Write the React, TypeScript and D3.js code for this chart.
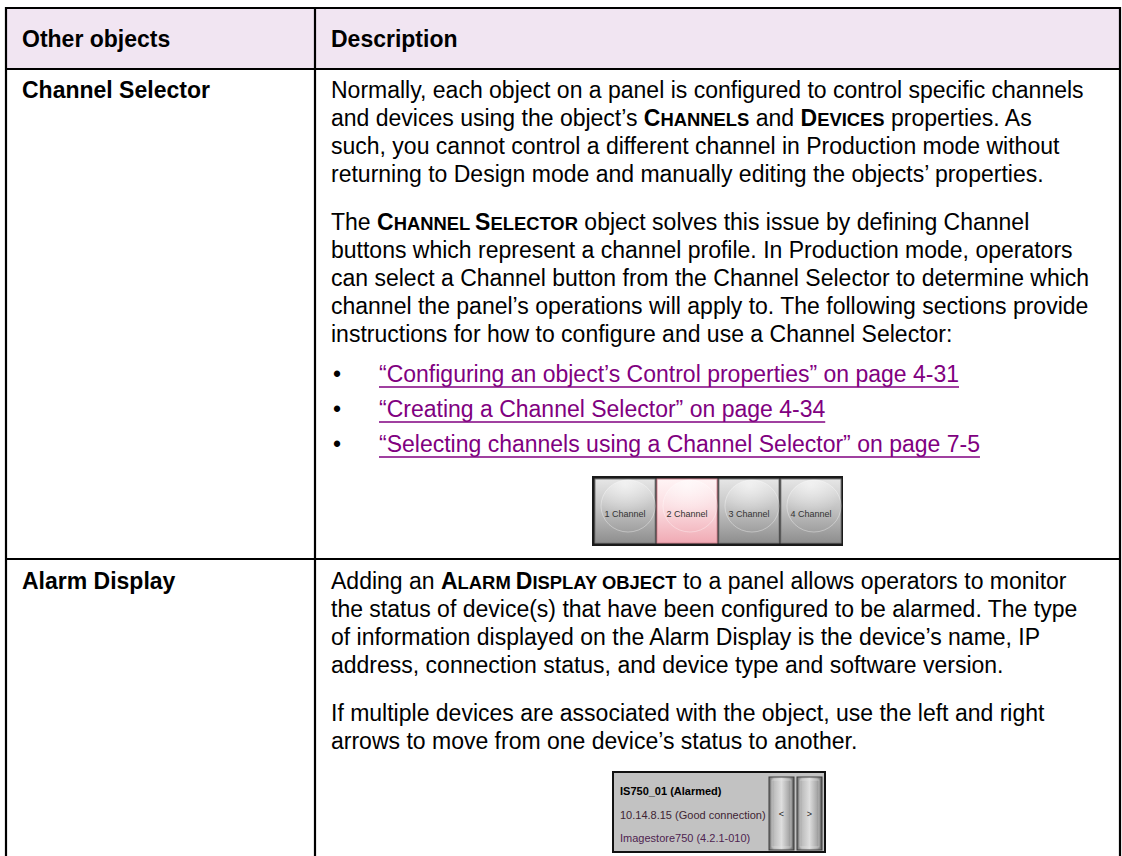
import React, { useEffect, useRef } from "react";
import * as d3 from "d3";

// ---------- data ----------
const headers = ["Other objects", "Description"];
const objectNames = ["Channel Selector", "Alarm Display"];

// {..} marks small-caps runs
const channelPara1 = [
  "Normally, each object on a panel is configured to control specific channels",
  "and devices using the object’s {Channels} and {Devices} properties. As",
  "such, you cannot control a different channel in Production mode without",
  "returning to Design mode and manually editing the objects’ properties.",
];
const channelPara2 = [
  "The {Channel Selector} object solves this issue by defining Channel",
  "buttons which represent a channel profile. In Production mode, operators",
  "can select a Channel button from the Channel Selector to determine which",
  "channel the panel’s operations will apply to. The following sections provide",
  "instructions for how to configure and use a Channel Selector:",
];
const channelLinks = [
  "“Configuring an object’s Control properties” on page 4-31",
  "“Creating a Channel Selector” on page 4-34",
  "“Selecting channels using a Channel Selector” on page 7-5",
];
const channelButtons = ["1 Channel", "2 Channel", "3 Channel", "4 Channel"];
const selectedChannel = 1;

const alarmPara1 = [
  "Adding an {Alarm Display object} to a panel allows operators to monitor",
  "the status of device(s) that have been configured to be alarmed. The type",
  "of information displayed on the Alarm Display is the device’s name, IP",
  "address, connection status, and device type and software version.",
];
const alarmPara2 = [
  "If multiple devices are associated with the object, use the left and right",
  "arrows to move from one device’s status to another.",
];
const alarmLines = ["IS750_01 (Alarmed)", "10.14.8.15 (Good connection)", "Imagestore750 (4.2.1-010)"];
const alarmArrows = ["<", ">"];

// ---------- layout ----------
const W = 1122;
const H = 856;
const FONT = '"Liberation Sans", Arial, Helvetica, sans-serif';
const FS = 23;
const SC = 18.4;
const LH = 28;
const PARA = 48;
const tableL = 6;
const tableR = 1120;
const tableT = 8;
const headB = 69;
const colX = 315;
const rowB = 559;
const textX = 331;
const labelX = 22;
const LINK = "#800080";

function richText(g: any, x: number, y: number, line: string, bold = false) {
  const t = g
    .append("text")
    .attr("x", x)
    .attr("y", y)
    .attr("font-family", FONT)
    .attr("font-size", FS)
    .attr("fill", "#000")
    .attr("font-weight", bold ? "bold" : "normal")
    .attr("xml:space", "preserve")
    .style("white-space", "pre");
  const parts = line.split(/(\{[^}]+\})/).filter((p) => p.length);
  parts.forEach((p) => {
    if (p.startsWith("{")) {
      const inner = p.slice(1, -1);
      const runs = inner.match(/([A-Z]+|[^A-Z]+)/g) || [];
      runs.forEach((r) => {
        const up = /^[A-Z]+$/.test(r);
        t.append("tspan")
          .attr("font-weight", "bold")
          .attr("font-size", up ? FS : SC)
          .text(r.toUpperCase());
      });
    } else {
      t.append("tspan").text(p);
    }
  });
  return t;
}

export default function App() {
  const ref = useRef<SVGSVGElement>(null);

  useEffect(() => {
    const svg = d3.select(ref.current);
    svg.selectAll("*").remove();
    const defs = svg.append("defs");

    // gradients
    const gGrey = defs.append("linearGradient").attr("id", "gbtn").attr("x1", 0).attr("y1", 0).attr("x2", 0).attr("y2", 1);
    [["0%", "#e6e6e6"], ["45%", "#c4c4c4"], ["100%", "#8e8e8e"]].forEach(([o, c]) =>
      gGrey.append("stop").attr("offset", o).attr("stop-color", c)
    );
    const gPink = defs.append("linearGradient").attr("id", "gpink").attr("x1", 0).attr("y1", 0).attr("x2", 0).attr("y2", 1);
    [["0%", "#fff4f5"], ["45%", "#fbdde1"], ["100%", "#f0aab4"]].forEach(([o, c]) =>
      gPink.append("stop").attr("offset", o).attr("stop-color", c)
    );
    const gHi = defs.append("radialGradient").attr("id", "ghi").attr("cx", 0.45).attr("cy", 0.1).attr("r", 0.6);
    gHi.append("stop").attr("offset", "0%").attr("stop-color", "#fff").attr("stop-opacity", 0.55);
    gHi.append("stop").attr("offset", "100%").attr("stop-color", "#fff").attr("stop-opacity", 0);
    const gBar = defs.append("linearGradient").attr("id", "gbar").attr("x1", 0).attr("y1", 0).attr("x2", 1).attr("y2", 0);
    [["0%", "#6e6e6e"], ["20%", "#bdbdbd"], ["50%", "#dedede"], ["80%", "#a8a8a8"], ["100%", "#5e5e5e"]].forEach(([o, c]) =>
      gBar.append("stop").attr("offset", o).attr("stop-color", c)
    );

    // background + header fill
    svg.append("rect").attr("x", 0).attr("y", 0).attr("width", W).attr("height", H).attr("fill", "#fff");
    svg
      .append("rect")
      .attr("x", tableL)
      .attr("y", tableT)
      .attr("width", tableR - tableL)
      .attr("height", headB - tableT)
      .attr("fill", "#f1e5f2");

    // grid lines
    const lines: [number, number, number, number][] = [
      [tableL, tableT, tableR, tableT],
      [tableL, tableT - 1, tableL, H + 5],
      [tableR, tableT - 1, tableR, H + 5],
      [colX, tableT, colX, H + 5],
      [tableL, headB, tableR, headB],
      [tableL, rowB, tableR, rowB],
    ];
    svg
      .append("g")
      .selectAll("line")
      .data(lines)
      .join("line")
      .attr("x1", (d) => d[0])
      .attr("y1", (d) => d[1])
      .attr("x2", (d) => d[2])
      .attr("y2", (d) => d[3])
      .attr("stroke", "#000")
      .attr("stroke-width", 2.2);

    const g = svg.append("g");

    // headers
    const hx = [labelX, textX];
    headers.forEach((h, i) => richText(g, hx[i], 47, h, true));

    // row labels
    const rowY = [98, 589];
    objectNames.forEach((n, i) => richText(g, labelX, rowY[i], n, true));

    // row 1 text
    const r1 = rowY[0];
    channelPara1.forEach((l, i) => richText(g, textX, r1 + i * LH, l));
    const p2 = r1 + (channelPara1.length - 1) * LH + PARA;
    channelPara2.forEach((l, i) => richText(g, textX, p2 + i * LH, l));
    const b0 = p2 + (channelPara2.length - 1) * LH + 40;
    channelLinks.forEach((l, i) => {
      const y = b0 + i * 35;
      g.append("text").attr("x", textX + 2).attr("y", y).attr("font-family", FONT).attr("font-size", FS).text("•");
      const t = g
        .append("text")
        .attr("x", 379)
        .attr("y", y)
        .attr("font-family", FONT)
        .attr("font-size", FS)
        .attr("fill", LINK)
        .text(l);
      const w = (t.node() as SVGTextElement).getComputedTextLength();
      g.append("line")
        .attr("x1", 379)
        .attr("x2", 379 + w)
        .attr("y1", y + 5)
        .attr("y2", y + 5)
        .attr("stroke", LINK)
        .attr("stroke-width", 1.6);
    });

    // channel selector image
    const imgY = b0 + (channelLinks.length - 1) * 35 + 24;
    const img = g.append("g");
    img.append("rect").attr("x", 592).attr("y", imgY).attr("width", 251).attr("height", 70).attr("fill", "#1a1a1a");
    const bx = d3.scaleBand<number>().domain(d3.range(channelButtons.length)).range([595, 841]).paddingInner(0.03);
    channelButtons.forEach((b, i) => {
      const x = bx(i) as number;
      const bw = bx.bandwidth();
      img.append("rect")
        .attr("x", x)
        .attr("y", imgY + 3)
        .attr("width", bw)
        .attr("height", 64)
        .attr("fill", i === selectedChannel ? "url(#gpink)" : "url(#gbtn)")
        .attr("stroke", i === selectedChannel ? "#d48894" : "#7a7a7a")
        .attr("stroke-width", 1);
      img.append("ellipse")
        .attr("cx", x + bw * 0.55)
        .attr("cy", imgY + 30)
        .attr("rx", bw * 0.45)
        .attr("ry", 26)
        .attr("fill", "url(#ghi)")
        .attr("stroke", "#ffffff")
        .attr("stroke-opacity", 0.35)
        .attr("stroke-width", 1);
      img.append("text")
        .attr("x", x + bw / 2)
        .attr("y", imgY + 41)
        .attr("text-anchor", "middle")
        .attr("font-family", FONT)
        .attr("font-size", 9)
        .attr("fill", "#333")
        .text(b);
    });

    // row 2 text
    const r2 = rowY[1];
    alarmPara1.forEach((l, i) => richText(g, textX, r2 + i * LH, l));
    const a2 = r2 + (alarmPara1.length - 1) * LH + PARA;
    alarmPara2.forEach((l, i) => richText(g, textX, a2 + i * LH, l));

    // alarm display image
    const ay = a2 + (alarmPara2.length - 1) * LH + 23;
    const al = g.append("g");
    al.append("rect").attr("x", 613).attr("y", ay).attr("width", 212).attr("height", 80).attr("fill", "#c2c2c2").attr("stroke", "#111").attr("stroke-width", 2);
    const lineCol = ["#000", "#3e2433", "#4e2450"];
    alarmLines.forEach((l, i) => {
      al.append("text")
        .attr("x", 620)
        .attr("y", ay + 23 + i * 23.5)
        .attr("font-family", FONT)
        .attr("font-size", 11)
        .attr("font-weight", i === 0 ? "bold" : "normal")
        .attr("fill", lineCol[i])
        .text(l);
    });
    alarmArrows.forEach((a, i) => {
      const x = 769 + i * 28;
      al.append("rect").attr("x", x).attr("y", ay + 5).attr("width", 25).attr("height", 73).attr("fill", "url(#gbar)").attr("stroke", "#3a3a3a").attr("stroke-width", 1);
      al.append("rect").attr("x", x + 3).attr("y", ay + 8).attr("width", 19).attr("height", 67).attr("fill", "none").attr("stroke", "#e8e8e8").attr("stroke-opacity", 0.5).attr("stroke-width", 1);
      al.append("text")
        .attr("x", x + 12.5)
        .attr("y", ay + 45)
        .attr("text-anchor", "middle")
        .attr("font-family", FONT)
        .attr("font-size", 9)
        .attr("fill", "#222")
        .text(a);
    });
  }, []);

  return (
    <svg
      ref={ref}
      width={W}
      height={H}
      style={{ position: "absolute", left: 0, top: 0, display: "block" }}
    />
  );
}
